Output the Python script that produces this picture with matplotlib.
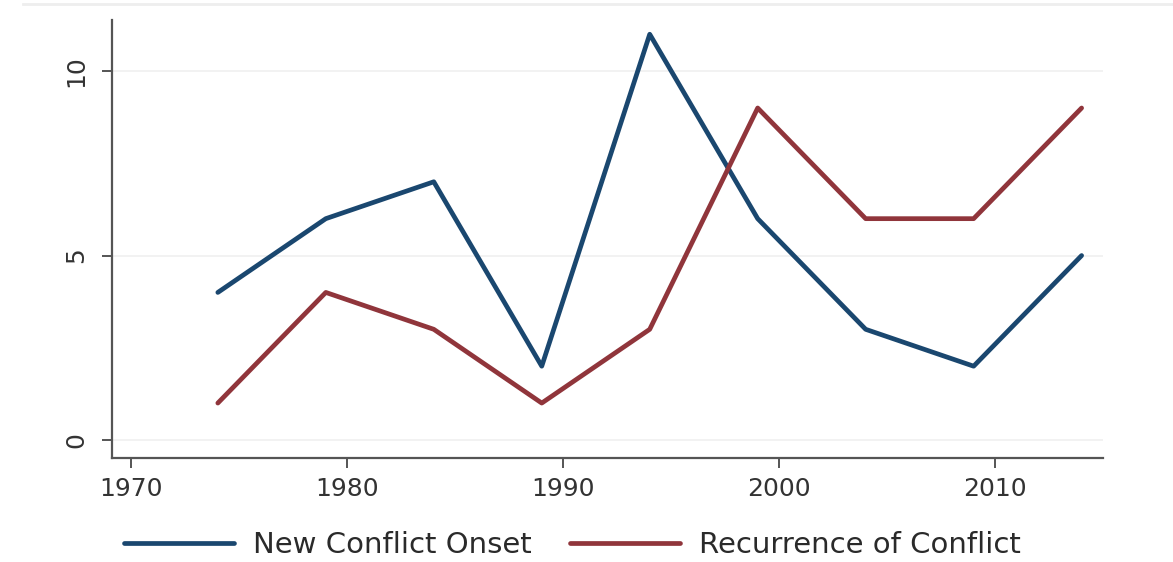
import matplotlib.pyplot as plt
from matplotlib.lines import Line2D

years = [1974, 1979, 1984, 1989, 1994, 1999, 2004, 2009, 2014]
new_onset = [4, 6, 7, 2, 11, 6, 3, 2, 5]
recurrence = [1, 4, 3, 1, 3, 9, 6, 6, 9]
labels = ["New Conflict Onset", "Recurrence of Conflict"]

plt.rcParams['font.family'] = ['DejaVu Sans']

fig = plt.figure(figsize=(11.73, 5.62), dpi=100)
ax = fig.add_axes([0.0955, 0.185, 0.845, 0.779])

# Faint frame line at the top of the figure
fig.add_artist(Line2D([0.02, 1.0], [0.992, 0.992], color='#eeeeee', lw=2))

ax.plot(years, new_onset, color='#1a476f', lw=3.4, solid_capstyle='round', label=labels[0])
ax.plot(years, recurrence, color='#90353b', lw=3.4, solid_capstyle='round', label=labels[1])

ax.set_xlim(1969.1, 2015)
ax.set_ylim(-0.49, 11.38)
ax.set_xticks([1970, 1980, 1990, 2000, 2010])
ax.set_yticks([0, 5, 10])
for y in [0, 5, 10]:
    ax.axhline(y, color='#f0f0f0', lw=1.2, zorder=0)

for s in ['top', 'right']:
    ax.spines[s].set_visible(False)
for s in ['left', 'bottom']:
    ax.spines[s].set_color('#555555')
    ax.spines[s].set_linewidth(1.6)

ax.tick_params(axis='both', colors='#555555', length=7, width=1.4, labelsize=18,
               labelcolor='#333333', pad=7)
ax.tick_params(axis='y', pad=10)
for t in ax.get_yticklabels():
    t.set_rotation(90)
    t.set_va('center')

fig.legend(loc='center', bbox_to_anchor=(0.488, 0.03), ncol=2, frameon=False,
           fontsize=21, handlelength=3.77, columnspacing=1.3, handletextpad=0.65,
           labelcolor='#2a2a2a')

plt.savefig('out.png', dpi=100)
